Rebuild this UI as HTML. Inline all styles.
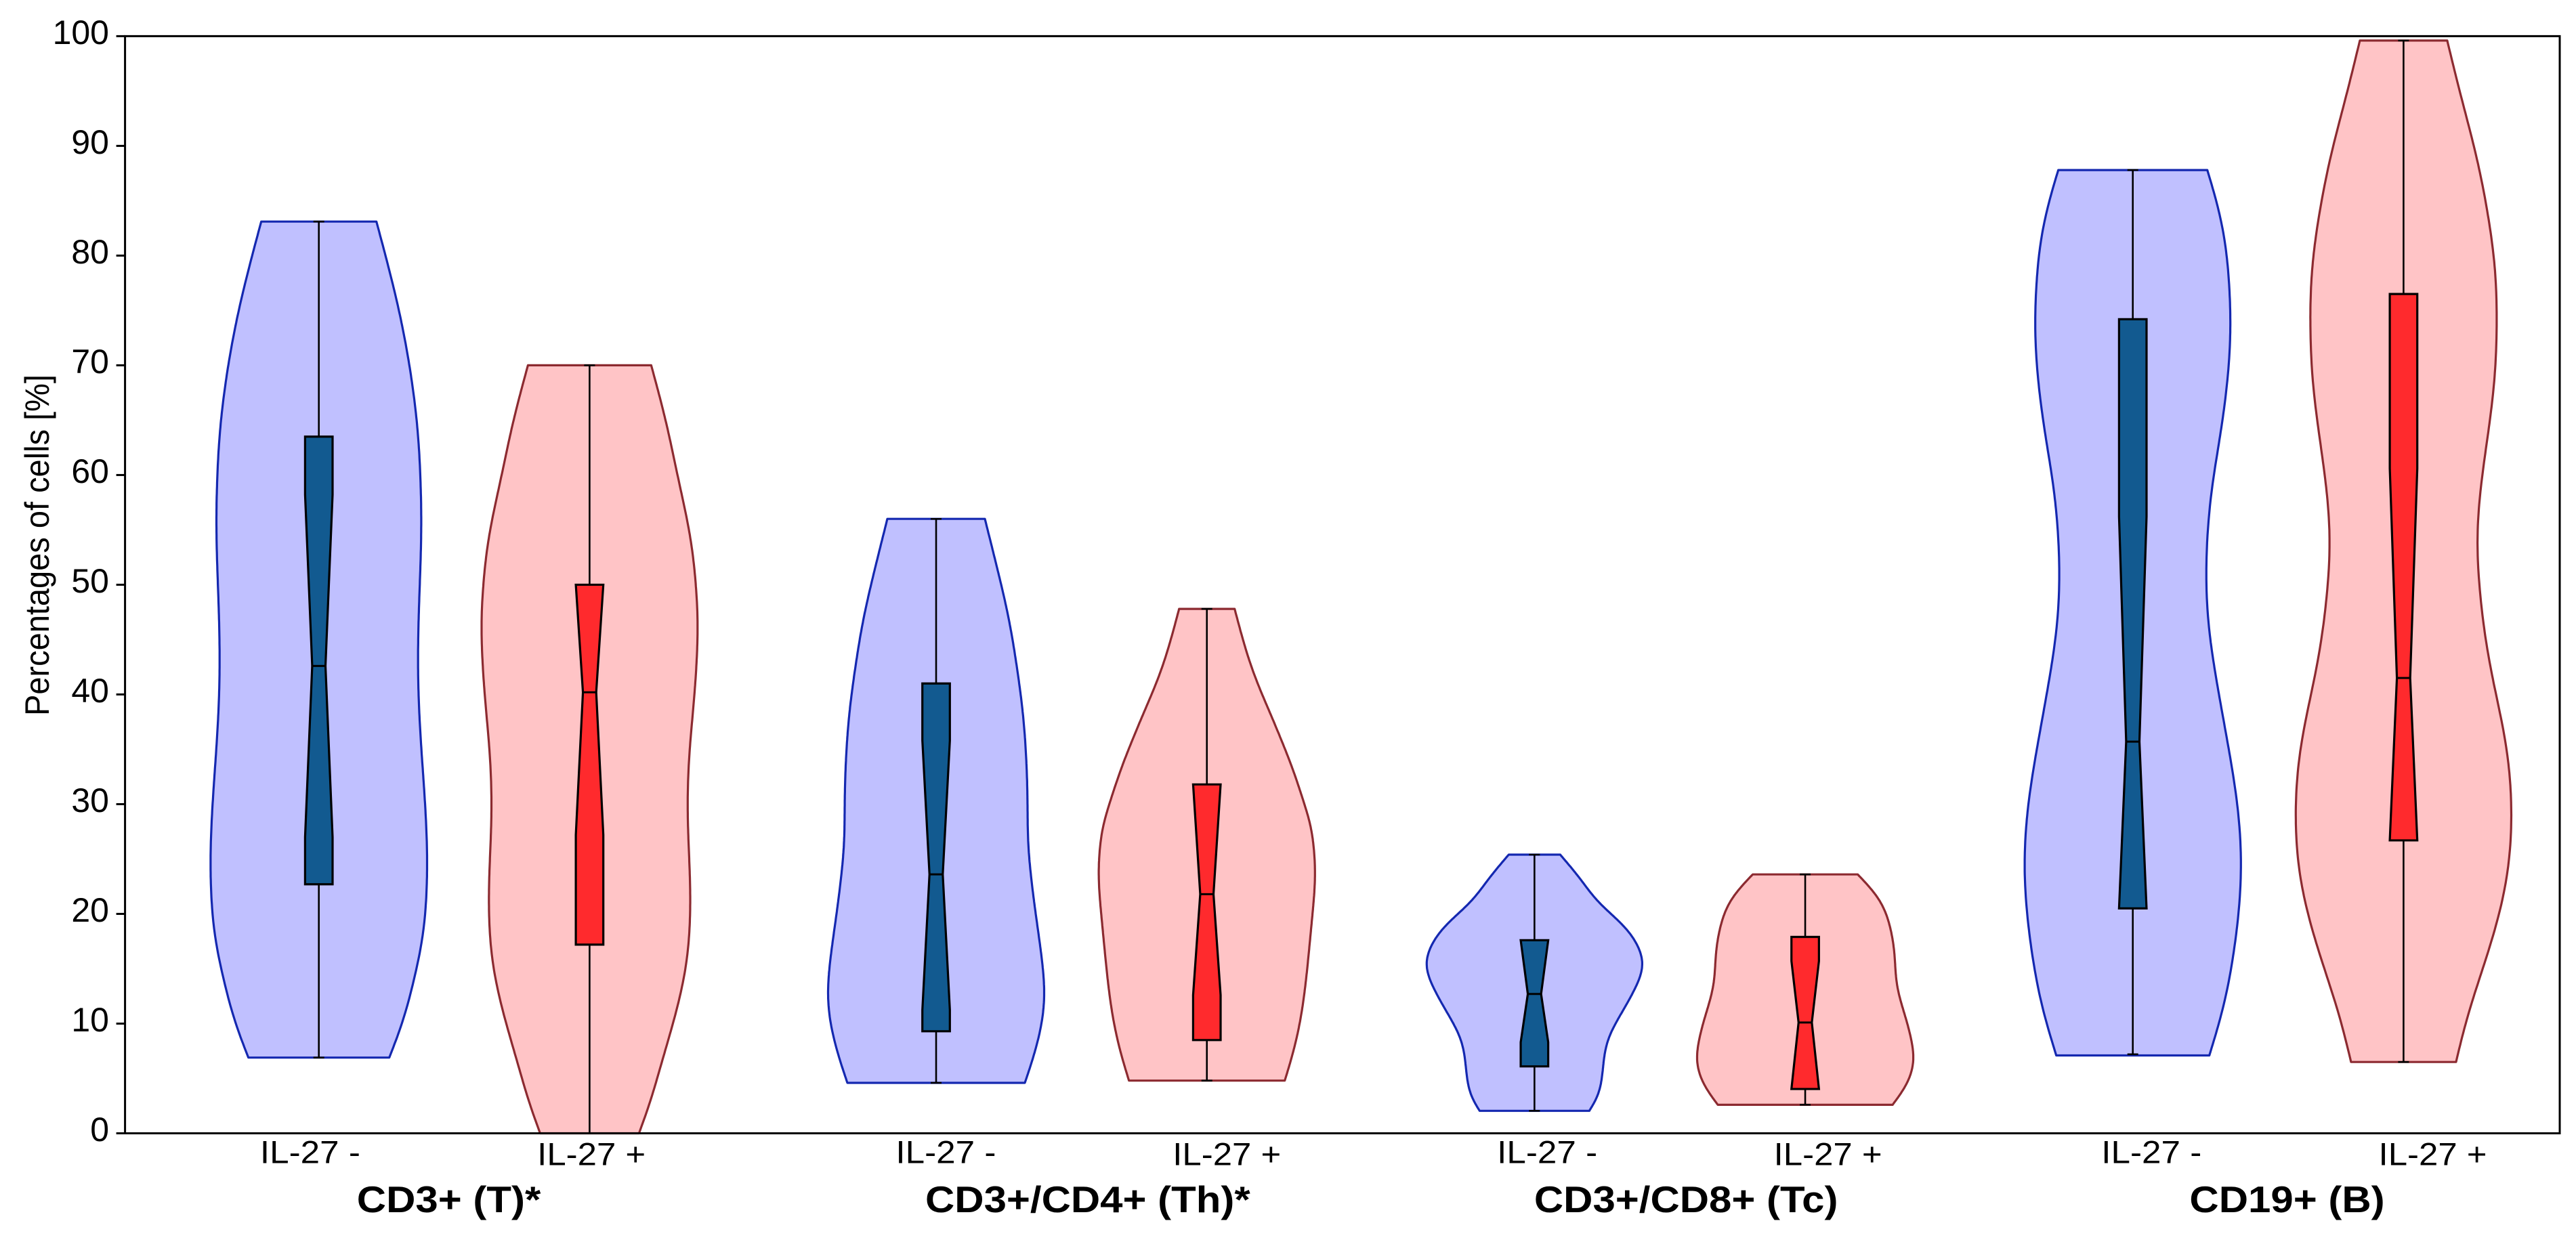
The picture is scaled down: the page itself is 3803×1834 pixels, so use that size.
<!DOCTYPE html>
<html lang="en">
<head>
<meta charset="utf-8">
<title>Percentages of cells by IL-27 status</title>
<style>
html,body{margin:0;padding:0;background:#fff;}
svg{display:block;font-family:"Liberation Sans",sans-serif;}
</style>
</head>
<body>
<svg id="chart" xmlns="http://www.w3.org/2000/svg" width="3803" height="1834" viewBox="0 0 3803 1834">
<rect x="0" y="0" width="3803" height="1834" fill="#fff"/>
<g id="marks"></g>
<g id="axes"></g>
</svg>
<script>
// ---- data ----
const yTicks = [0, 10, 20, 30, 40, 50, 60, 70, 80, 90, 100];
const yAxisTitle = "Percentages of cells [%]";
const conditionLabels = ["IL-27 -", "IL-27 +", "IL-27 -", "IL-27 +", "IL-27 -", "IL-27 +", "IL-27 -", "IL-27 +"];
const groupLabels = ["CD3+ (T)*", "CD3+/CD4+ (Th)*", "CD3+/CD8+ (Tc)", "CD19+ (B)"];
const violinNames = ["cd3-il27-neg", "cd3-il27-pos", "cd4-il27-neg", "cd4-il27-pos", "cd8-il27-neg", "cd8-il27-pos", "cd19-il27-neg", "cd19-il27-pos"];
// category coordinates on the x axis (1 unit = one violin pair spacing)
const violinPositions = [1, 2, 3.28, 4.28, 5.49, 6.49, 7.70, 8.70];
const conditionLabelPositions = [0.968, 2.007, 3.316, 4.354, 5.537, 6.574, 7.769, 8.808];
const groupLabelPositions = [1.48, 3.84, 6.05, 8.27];

// percentage levels at which each violin density was read
const violinLevels = [
  [83.1, 74.3, 67, 63.5, 59.9, 56.3, 50, 45, 40, 35.3, 30, 26, 23, 20.4, 17.3, 14.9, 12.8, 9.7, 6.9],
  [70, 63.5, 59.9, 56.3, 52.7, 50, 47, 44, 40, 35.3, 30, 25.7, 23.1, 21, 18, 14.9, 12.8, 9.7, 6.6, 2.5, 0],
  [56, 50.8, 46.7, 42.6, 38.4, 34.3, 30.2, 26.1, 24, 20, 15.5, 11.9, 8.8, 6.6, 4.6],
  [47.8, 44.6, 41.6, 38.5, 35.4, 32.3, 30.2, 28.2, 26.1, 24, 20, 15.5, 11, 7.5, 4.8],
  [25.4, 23, 21.1, 18.9, 17.3, 15.4, 13.5, 10.8, 8.7, 6.5, 4.4, 3, 2.05],
  [23.6, 21.6, 18.9, 16.2, 13.5, 10.8, 8.1, 6.8, 4.9, 3.6, 2.6],
  [87.8, 85.2, 81.6, 78, 74.3, 70.7, 67, 63.5, 59.9, 56.3, 51.1, 47.8, 44.1, 40.4, 36.8, 33, 28.7, 23.1, 18.9, 14.8, 11.7, 8.65, 7.1],
  [99.6, 94.2, 88.8, 83.3, 78.7, 74.3, 68.8, 63.4, 58, 53.7, 49, 44.1, 40.4, 36.8, 33.1, 29, 23.1, 18.9, 14.8, 10.7, 6.5]
];
// relative density at those levels
const violinDensity = [
  [0.85, 1.21, 1.41, 1.47, 1.50, 1.515, 1.49, 1.465, 1.47, 1.51, 1.57, 1.60, 1.60, 1.58, 1.525, 1.44, 1.36, 1.22, 1.04],
  [0.91, 1.18, 1.30, 1.43, 1.53, 1.57, 1.60, 1.59, 1.55, 1.48, 1.445, 1.466, 1.485, 1.49, 1.475, 1.42, 1.35, 1.22, 1.07, 0.88, 0.73],
  [0.72, 0.93, 1.08, 1.19, 1.28, 1.33, 1.35, 1.36, 1.39, 1.47, 1.57, 1.60, 1.52, 1.42, 1.31],
  [0.41, 0.55, 0.71, 0.92, 1.13, 1.32, 1.43, 1.53, 1.58, 1.60, 1.56, 1.49, 1.40, 1.28, 1.15],
  [0.38, 0.70, 0.94, 1.32, 1.51, 1.60, 1.51, 1.27, 1.095, 1.02, 0.98, 0.905, 0.81],
  [0.775, 1.06, 1.25, 1.32, 1.355, 1.47, 1.58, 1.60, 1.53, 1.41, 1.29],
  [1.10, 1.23, 1.36, 1.42, 1.446, 1.43, 1.37, 1.29, 1.19, 1.12, 1.08, 1.094, 1.16, 1.26, 1.365, 1.475, 1.57, 1.60, 1.545, 1.45, 1.35, 1.21, 1.13],
  [0.645, 0.86, 1.09, 1.26, 1.36, 1.38, 1.35, 1.24, 1.12, 1.08, 1.13, 1.23, 1.35, 1.48, 1.57, 1.60, 1.53, 1.37, 1.16, 0.94, 0.775]
];

const whiskerHigh = [83.1, 70, 56, 47.8, 25.4, 23.6, 87.8, 99.6];
const quartile3   = [63.5, 50, 41, 31.8, 17.6, 17.9, 74.2, 76.5];
const notchHigh   = [58.2, 50, 35.8, 31.8, 17.6, 15.7, 56.2, 60.6];
const medians     = [42.6, 40.2, 23.6, 21.8, 12.7, 10.1, 35.7, 41.5];
const notchLow    = [27, 27.2, 11.25, 12.6, 8.3, 4.04, 20.5, 26.7];
const quartile1   = [22.7, 17.2, 9.3, 8.5, 6.1, 4.04, 20.5, 26.7];
const whiskerLow  = [6.9, 0, 4.6, 4.8, 2.05, 2.6, 7.2, 6.5];

// ---- axis functions ----
const plotLeft = 184.6, plotRight = 3779, plotTop = 53.4, plotBottom = 1673.5;
function yScale(v) { return plotBottom - (plotBottom - plotTop) * v / 100; }
function xScale(p) { return 470.7 + 399.7 * (p - 1); }
function widthScale(d) { return d * 100; }

const NS = "http://www.w3.org/2000/svg";
const marks = document.getElementById("marks");
const axes = document.getElementById("axes");
function make(tag, parent, attrs) {
  const el = document.createElementNS(NS, tag);
  for (const k in attrs) el.setAttribute(k, attrs[k]);
  parent.appendChild(el);
  return el;
}
// natural cubic spline through (levels, density), sampled densely
function densityCurve(levels, density) {
  const xs = levels.slice().reverse(), ys = density.slice().reverse();
  const n = xs.length;
  const u = new Array(n).fill(0), m = new Array(n).fill(0);
  for (let i = 1; i < n - 1; i++) {
    const sig = (xs[i] - xs[i - 1]) / (xs[i + 1] - xs[i - 1]);
    const p = sig * m[i - 1] + 2;
    m[i] = (sig - 1) / p;
    const d = (ys[i + 1] - ys[i]) / (xs[i + 1] - xs[i]) - (ys[i] - ys[i - 1]) / (xs[i] - xs[i - 1]);
    u[i] = (6 * d / (xs[i + 1] - xs[i - 1]) - sig * u[i - 1]) / p;
  }
  for (let k = n - 2; k >= 0; k--) m[k] = m[k] * m[k + 1] + u[k];
  const out = [];
  const lo = xs[0], hi = xs[n - 1];
  const steps = 240;
  for (let s = 0; s <= steps; s++) {
    const v = lo + (hi - lo) * s / steps;
    let j = 0;
    while (j < n - 2 && v > xs[j + 1]) j++;
    const h = xs[j + 1] - xs[j];
    const a = (xs[j + 1] - v) / h, b = (v - xs[j]) / h;
    const y = a * ys[j] + b * ys[j + 1] + ((a * a * a - a) * m[j] + (b * b * b - b) * m[j + 1]) * h * h / 6;
    out.push([v, y]);
  }
  return smoothCurve(out);
}
// gaussian smoothing over the sampled curve; ends are extended by point reflection so they stay pinned
function smoothCurve(pts) {
  const n = pts.length, last = n - 1;
  const sigma = last * 0.025;
  const radius = Math.ceil(sigma * 3);
  function at(i) {
    if (i < 0) return 2 * pts[0][1] - pts[-i][1];
    if (i > last) return 2 * pts[last][1] - pts[2 * last - i][1];
    return pts[i][1];
  }
  return pts.map(function (p, i) {
    let sum = 0, wt = 0;
    for (let k = -radius; k <= radius; k++) {
      const w = Math.exp(-k * k / (2 * sigma * sigma));
      sum += w * at(i + k);
      wt += w;
    }
    return [p[0], sum / wt];
  });
}

// ---- violins and notched boxes ----
violinPositions.forEach(function (pos, i) {
  const cx = xScale(pos);
  const isNeg = i % 2 === 0;
  const g = make("g", marks, {});
  
  

  const curve = densityCurve(violinLevels[i], violinDensity[i]);
  const right = curve.map(function (c) { return (cx + widthScale(c[1])).toFixed(1) + " " + yScale(c[0]).toFixed(1); });
  const left = curve.map(function (c) { return (cx - widthScale(c[1])).toFixed(1) + " " + yScale(c[0]).toFixed(1); }).reverse();
  const outline = "M" + right.join("L") + "L" + left.join("L") + "Z";
  const violin = make("path", g, { d: outline, fill: isNeg ? "#c0c0ff" : "#ffc4c6", stroke: isNeg ? "#1428b0" : "#8c2a30", "stroke-width": 3.2, "stroke-linejoin": "round" });
  
  

  const whisker = make("path", g, {
    d: "M" + cx + " " + yScale(whiskerHigh[i]) + "V" + yScale(quartile3[i]) +
       "M" + cx + " " + yScale(quartile1[i]) + "V" + yScale(whiskerLow[i]) +
       "M" + (cx - 8) + " " + yScale(whiskerHigh[i]) + "H" + (cx + 8) +
       "M" + (cx - 8) + " " + yScale(whiskerLow[i]) + "H" + (cx + 8),
    fill: "none", stroke: "#000", "stroke-width": 2.6 });
  
  

  const hw = 20.3, waist = 9.8;
  const q3y = yScale(quartile3[i]), q1y = yScale(quartile1[i]), nh = yScale(notchHigh[i]), nl = yScale(notchLow[i]), my = yScale(medians[i]);
  const boxPath = "M" + (cx - hw) + " " + q3y + "L" + (cx + hw) + " " + q3y + "L" + (cx + hw) + " " + nh +
    "L" + (cx + waist) + " " + my + "L" + (cx + hw) + " " + nl + "L" + (cx + hw) + " " + q1y +
    "L" + (cx - hw) + " " + q1y + "L" + (cx - hw) + " " + nl + "L" + (cx - waist) + " " + my + "L" + (cx - hw) + " " + nh + "Z";
  const box = make("path", g, { d: boxPath, fill: isNeg ? "#125a90" : "#ff2a2d", stroke: "#000", "stroke-width": 3.2, "stroke-linejoin": "miter" });
  
  

  const med = make("line", g, { x1: cx - waist, x2: cx + waist, y1: my, y2: my, stroke: "#000", "stroke-width": 3 });
  
  
});

// ---- axes ----
const frame = make("path", axes, {
  d: "M" + plotLeft + " " + plotTop + "H" + plotRight + "V" + plotBottom + "H" + plotLeft + "Z",
  fill: "none", stroke: "#000", "stroke-width": 3 });



yTicks.forEach(function (t) {
  const y = yScale(t);
  const tick = make("line", axes, { x1: plotLeft - 13, x2: plotLeft, y1: y, y2: y, stroke: "#000", "stroke-width": 3 });
  
  
  const label = make("text", axes, { x: 161, y: y + 11.5, "text-anchor": "end", "font-size": 50, fill: "#000" });
  label.textContent = String(t);
  
  
});

const yTitle = make("text", axes, { transform: "translate(72,805) rotate(-90)", "text-anchor": "middle", "font-size": 50, fill: "#000", textLength: 504, lengthAdjust: "spacingAndGlyphs" });
yTitle.textContent = yAxisTitle;



conditionLabelPositions.forEach(function (pos, i) {
  const isNeg = i % 2 === 0;
  const label = make("text", axes, {
    x: xScale(pos), y: isNeg ? 1717.5 : 1720.5, "text-anchor": "middle",
    "font-size": 47, fill: "#000", textLength: isNeg ? 148 : 160, lengthAdjust: "spacingAndGlyphs" });
  label.textContent = conditionLabels[i];
  
  
});

groupLabels.forEach(function (name, i) {
  const label = make("text", axes, { x: xScale(groupLabelPositions[i]), y: 1790, "text-anchor": "middle", "font-size": 55, "font-weight": "bold", fill: "#000" });
  label.textContent = name;
  
  
  label.setAttribute('lengthAdjust', 'spacingAndGlyphs');
  label.setAttribute('textLength', (label.getComputedTextLength() * 1.09).toFixed(1));
});
</script>
</body>
</html>
